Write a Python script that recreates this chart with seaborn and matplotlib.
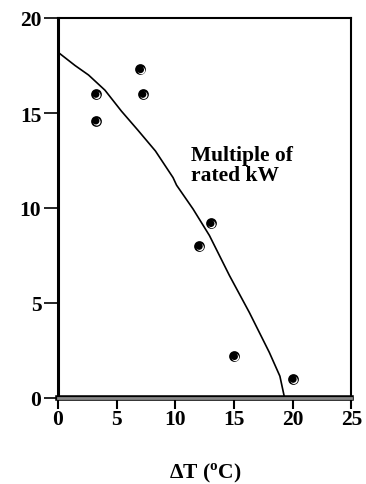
import matplotlib
matplotlib.use("Agg")
import matplotlib.pyplot as plt
import matplotlib.patheffects as pe
from matplotlib.transforms import offset_copy
import seaborn as sns
import pandas as pd

# Data
pts_x = [3.2, 3.2, 7.0, 7.2, 12.0, 13.0, 15.0, 20.0]
pts_y = [16.0, 14.6, 17.3, 16.0, 8.0, 9.2, 2.2, 1.0]
curve_x = [0.0, 1.45, 2.6, 4.0, 5.4, 6.8, 8.3, 9.8, 10.1, 11.5, 12.9, 14.6, 16.3, 18.0, 18.9, 19.3]
curve_y = [18.2, 17.5, 17.0, 16.2, 15.1, 14.1, 13.0, 11.6, 11.2, 9.95, 8.55, 6.45, 4.5, 2.4, 1.15, 0.0]
xticks = [0, 5, 10, 15, 20, 25]
yticks = [0, 5, 10, 15, 20]

sns.set_theme(style="white")
plt.rcParams['font.family'] = ['Liberation Serif', 'DejaVu Serif']
plt.rcParams['font.weight'] = 'bold'
plt.rcParams['mathtext.fontset'] = 'custom'
plt.rcParams['mathtext.rm'] = 'Liberation Serif:bold'
plt.rcParams['mathtext.bf'] = 'Liberation Serif:bold'
for k in ['text.color', 'axes.labelcolor', 'xtick.color', 'ytick.color']:
    plt.rcParams[k] = 'black'

fig = plt.figure(figsize=(3.66, 4.85), dpi=100)
ax = fig.add_axes([58/366, 1 - 399/485, 293.5/366, 380/485])

df_pts = pd.DataFrame({'x': pts_x, 'y': pts_y})
df_curve = pd.DataFrame({'x': curve_x, 'y': curve_y})

sns.lineplot(data=df_curve, x='x', y='y', ax=ax, color='black', lw=1.2, sort=False)
sns.scatterplot(data=df_pts, x='x', y='y', ax=ax, color='black', s=60,
                edgecolor='black', linewidth=0, zorder=5)
sns.scatterplot(data=df_pts, x='x', y='y', ax=ax, color='white', s=28,
                edgecolor='none', linewidth=0, zorder=6)
ax.collections[-1].set_offset_transform(offset_copy(ax.transData, fig=fig, x=1.3, y=-1.3, units='dots'))
sns.scatterplot(data=df_pts, x='x', y='y', ax=ax, color='black', s=26,
                edgecolor='none', linewidth=0, zorder=7)
ax.collections[-1].set_offset_transform(offset_copy(ax.transData, fig=fig, x=0.3, y=-0.3, units='dots'))

ax.set_xlim(0, 25)
ax.set_ylim(0, 20)
ax.set_xticks(xticks)
ax.set_yticks(yticks)
ax.set_xticklabels([str(t) for t in xticks], fontsize=15.5, fontweight='bold')
ax.set_yticklabels([str(t) for t in yticks], fontsize=15.5, fontweight='bold')
ax.tick_params(axis='x', direction='out', length=8, width=1.5, color='black', pad=0, bottom=True)
ax.tick_params(axis='y', direction='out', length=10, width=1.2, color='black', pad=2, left=True)

ax.set_xlabel(r'ΔT ($^{\mathrm{o}}$C)', fontsize=15.5, fontweight='bold', va='center')
ax.xaxis.set_label_coords(0.5, -0.195)
ax.set_ylabel('')

for s in ['top', 'right']:
    ax.spines[s].set_linewidth(1.5)
    ax.spines[s].set_color('black')
ax.spines['left'].set_linewidth(2.2)
ax.spines['left'].set_color('black')
ax.spines['bottom'].set_linewidth(2.0)
ax.spines['bottom'].set_color('#888888')
ax.spines['bottom'].set_path_effects([pe.Stroke(linewidth=4, foreground='black'), pe.Normal()])

ax.text(11.3, 12.25, 'Multiple of\nrated kW', fontsize=15.5, fontweight='bold',
        ha='left', va='center', linespacing=1.0)

fig.savefig('out.png', dpi=100)
